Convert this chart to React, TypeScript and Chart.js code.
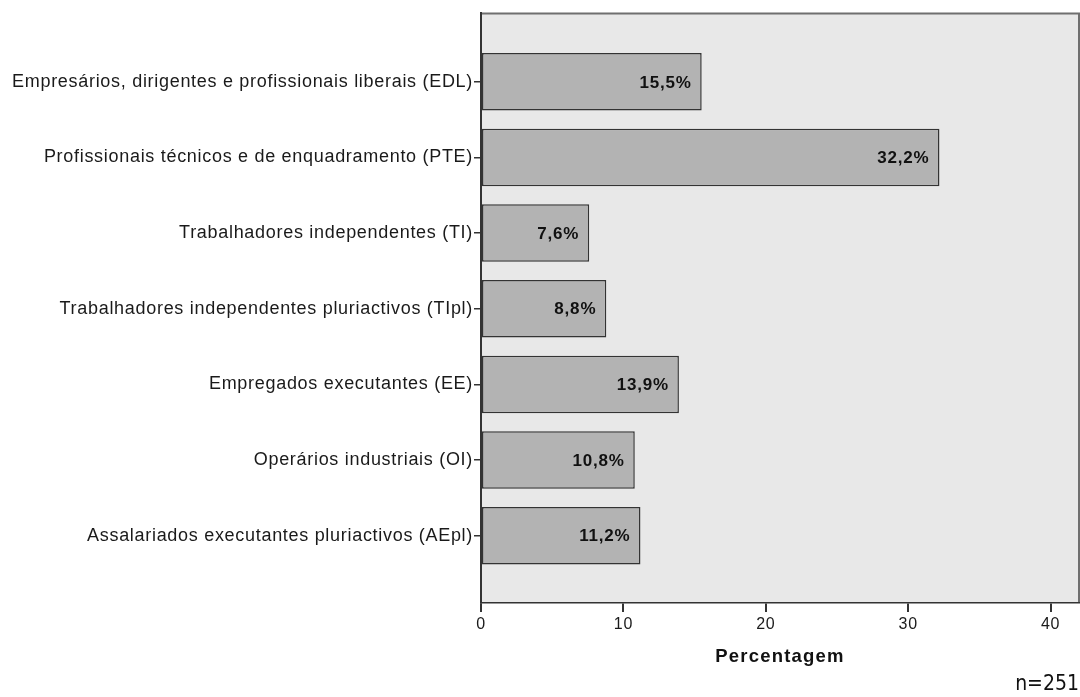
import React, { useEffect, useRef } from "react";
import { Chart, registerables } from "chart.js";

Chart.register(...registerables);

const categories: string[] = [
  "Empresários, dirigentes e profissionais liberais (EDL)",
  "Profissionais técnicos e de enquadramento (PTE)",
  "Trabalhadores independentes (TI)",
  "Trabalhadores independentes pluriactivos (TIpl)",
  "Empregados executantes (EE)",
  "Operários industriais (OI)",
  "Assalariados executantes pluriactivos (AEpl)",
];
const percentages: number[] = [15.5, 32.2, 7.6, 8.8, 13.9, 10.8, 11.2];
const xTicks: number[] = [0, 10, 20, 30, 40];
const axisTitle = "Percentagem";
const sampleNote = "n=251";

const FONT = "'Liberation Sans', Arial, sans-serif";

export default function App() {
  const ref = useRef<HTMLCanvasElement | null>(null);

  useEffect(() => {
    document.body.style.margin = "0";
    const canvas = ref.current;
    if (!canvas) return;

    const frame = {
      id: "frame",
      beforeDraw(chart: any) {
        const { ctx, chartArea } = chart;
        ctx.save();
        ctx.fillStyle = "#e8e8e8";
        ctx.fillRect(chartArea.left, chartArea.top, chartArea.right - chartArea.left, chartArea.bottom - chartArea.top);
        ctx.strokeStyle = "#6f6f6f";
        ctx.lineWidth = 2;
        ctx.beginPath();
        ctx.moveTo(chartArea.left, chartArea.top + 0.5);
        ctx.lineTo(chartArea.right, chartArea.top + 0.5);
        ctx.lineTo(chartArea.right, chartArea.bottom);
        ctx.stroke();
        ctx.restore();
        (ctx as any).letterSpacing = "0.7px";
      },
      afterDatasetsDraw(chart: any) {
        const { ctx } = chart;
        const meta = chart.getDatasetMeta(0);
        ctx.save();
        (ctx as any).letterSpacing = "0.8px";
        ctx.font = `bold 17px ${FONT}`;
        ctx.fillStyle = "#111";
        ctx.textAlign = "right";
        ctx.textBaseline = "middle";
        meta.data.forEach((bar: any, i: number) => {
          const txt = percentages[i].toFixed(1).replace(".", ",") + "%";
          ctx.fillText(txt, bar.x - 10, bar.y + 1);
        });
        ctx.restore();
      },
      afterDraw(chart: any) {
        const { ctx, chartArea } = chart;
        ctx.save();
        (ctx as any).letterSpacing = "1.2px";
        ctx.font = `bold 18.5px ${FONT}`;
        ctx.fillStyle = "#111";
        ctx.textAlign = "center";
        ctx.textBaseline = "middle";
        ctx.fillText(axisTitle, (chartArea.left + chartArea.right) / 2, 657);
        (ctx as any).letterSpacing = "0px";
        ctx.font = `21px 'Liberation Sans Narrow', 'DejaVu Sans Condensed', sans-serif`;
        ctx.textAlign = "right";
        ctx.textBaseline = "alphabetic";
        ctx.fillText(sampleNote, 1079, 690);
        ctx.restore();
        (ctx as any).letterSpacing = "0px";
      },
    };

    const chart = new Chart(canvas, {
      type: "bar",
      data: {
        datasets: [
          {
            data: percentages.map((v, i) => ({ x: v, y: i })),
            backgroundColor: "#b3b3b3",
            borderColor: "#333333",
            borderWidth: 1.5,
            borderSkipped: false,
            barPercentage: 0.76,
            categoryPercentage: 1,
          },
        ],
      },
      options: {
        indexAxis: "y",
        responsive: false,
        animation: false,
        layout: { padding: { left: 0, top: 13, right: 1, bottom: 0 } },
        plugins: { legend: { display: false }, tooltip: { enabled: false } },
        scales: {
          y: {
            type: "linear",
            reverse: true,
            offset: false,
            min: -0.91,
            max: 6.89,
            afterBuildTicks: (scale: any) => {
              scale.ticks = categories.map((_, i) => ({ value: i }));
            },
            afterFit: (scale: any) => {
              scale.width = 481;
            },
            ticks: {
              callback: (v: any) => categories[v as number] ?? "",
              font: { family: FONT, size: 18 },
              color: "#1a1a1a",
              padding: 1,
              autoSkip: false,
            },
            grid: {
              offset: false,
              drawOnChartArea: false,
              drawTicks: true,
              tickLength: 7,
              color: "#333",
              lineWidth: 1.5,
            },
            border: { color: "#333", width: 2 },
          },
          x: {
            type: "linear",
            min: 0,
            max: 42,
            afterBuildTicks: (scale: any) => {
              scale.ticks = xTicks.map((v) => ({ value: v }));
            },
            afterFit: (scale: any) => {
              scale.height = 94;
            },
            ticks: {
              font: { family: FONT, size: 16 },
              color: "#1a1a1a",
              padding: 3,
              autoSkip: false,
              maxRotation: 0,
            },
            grid: {
              drawOnChartArea: false,
              drawTicks: true,
              tickLength: 9,
              color: "#333",
              lineWidth: 2,
            },
            border: { color: "#333", width: 1.5 },
          },
        },
      },
      plugins: [frame],
    } as any);

    return () => chart.destroy();
  }, []);

  return <canvas ref={ref} width={1080} height={697} style={{ display: "block" }} />;
}
